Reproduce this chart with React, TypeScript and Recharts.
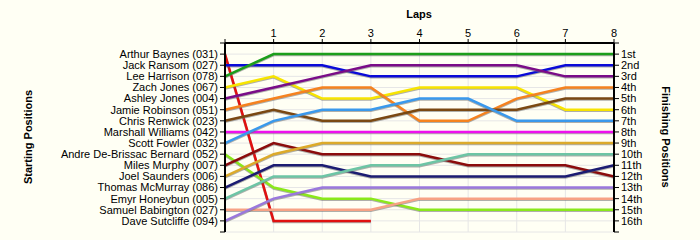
import React from 'react';
import { LineChart, Line, XAxis, YAxis, CartesianGrid } from 'recharts';

const laps = [0, 1, 2, 3, 4, 5, 6, 7, 8];
const positionTicks = [0, 1, 2, 3, 4, 5, 6, 7, 8, 9, 10, 11, 12, 13, 14, 15, 16, 17];

const startNames = [
  'Arthur Baynes (031)',
  'Jack Ransom (027)',
  'Lee Harrison (078)',
  'Zach Jones (067)',
  'Ashley Jones (004)',
  'Jamie Robinson (051)',
  'Chris Renwick (023)',
  'Marshall Williams (042)',
  'Scott Fowler (032)',
  'Andre De-Brissac Bernard (052)',
  'Miles Murphy (007)',
  'Joel Saunders (006)',
  'Thomas McMurray (086)',
  'Emyr Honeybun (005)',
  'Samuel Babington (027)',
  'Dave Sutcliffe (094)',
];

const finishLabels = ['1st', '2nd', '3rd', '4th', '5th', '6th', '7th', '8th', '9th', '10th', '11th', '12th', '13th', '14th', '15th', '16th'];

// position per lap (lap 0 = grid)
const arthurBaynes = [1, 16, 16, 16, null, null, null, null, null];
const jackRansom = [2, 2, 2, 3, 3, 3, 3, 2, 2];
const leeHarrison = [3, 1, 1, 1, 1, 1, 1, 1, 1];
const zachJones = [4, 3, 5, 5, 4, 4, 4, 6, 6];
const ashleyJones = [5, 4, 3, 2, 2, 2, 2, 3, 3];
const jamieRobinson = [6, 5, 4, 4, 7, 7, 5, 4, 4];
const chrisRenwick = [7, 6, 7, 7, 6, 6, 6, 5, 5];
const marshallWilliams = [8, 8, 8, 8, 8, 8, 8, 8, 8];
const scottFowler = [9, 7, 6, 6, 5, 5, 7, 7, 7];
const andreBernard = [10, 13, 14, 14, 15, 15, 15, 15, 15];
const milesMurphy = [11, 9, 10, 10, 10, 11, 11, 11, 12];
const joelSaunders = [12, 10, 9, 9, 9, 9, 9, 9, 9];
const thomasMcMurray = [13, 11, 11, 12, 12, 12, 12, 12, 11];
const emyrHoneybun = [14, 12, 12, 11, 11, 10, 10, 10, 10];
const samuelBabington = [15, 15, 15, 15, 14, 14, 14, 14, 14];
const daveSutcliffe = [16, 14, 13, 13, 13, 13, 13, 13, 13];

const series = [
  arthurBaynes, jackRansom, leeHarrison, zachJones, ashleyJones, jamieRobinson,
  chrisRenwick, marshallWilliams, scottFowler, andreBernard, milesMurphy,
  joelSaunders, thomasMcMurray, emyrHoneybun, samuelBabington, daveSutcliffe,
];

const COLORS = [
  '#e01010', '#0a0ad8', '#1b9e1b', '#f7e400', '#7a0c88', '#f5821f',
  '#7a4812', '#ee11ee', '#3a99ec', '#8ae81a', '#8b0c0c',
  '#dcaa2a', '#1c1c72', '#6dc5a5', '#f7a285', '#9a78dc',
];

const data = laps.map((lap, i) => {
  const row: Record<string, number | null> = { lap };
  series.forEach((s, k) => {
    row[`d${k}`] = s[i];
  });
  return row;
});

const FONT = '"Liberation Sans", Arial, sans-serif';
const tickStyle = { fontSize: 11, fill: '#000', fontFamily: FONT };
const axisLine = { stroke: '#000', strokeWidth: 2 };

export default function App() {
  return (
    <div style={{ position: 'absolute', left: 0, top: 0, width: 700, height: 240, background: '#fffff4' }}>
      <style>{`.recharts-line-curve { filter: drop-shadow(0px 1.5px 0px rgba(110,110,110,0.55)); }`}</style>
      <LineChart width={700} height={240} data={data} margin={{ top: 0, right: 0, left: 0, bottom: 8 }}>
        <CartesianGrid yAxisId="left" stroke="#e6e6e6" strokeWidth={1} />
        <XAxis
          dataKey="lap"
          type="number"
          orientation="top"
          domain={[0, 8]}
          ticks={laps}
          interval={0}
          height={43}
          tickSize={4}
          tickLine={{ stroke: '#000' }}
          axisLine={axisLine}
          tick={tickStyle}
          tickFormatter={(v: number) => (v === 0 ? '' : String(v))}
        />
        <YAxis
          yAxisId="left"
          orientation="left"
          type="number"
          domain={[0, 17]}
          reversed
          ticks={positionTicks}
          interval={0}
          width={225}
          tickSize={5}
          tickLine={{ stroke: '#000' }}
          axisLine={axisLine}
          tick={tickStyle}
          tickFormatter={(v: number) => startNames[v - 1] ?? ''}
        />
        <YAxis
          yAxisId="right"
          orientation="right"
          type="number"
          domain={[0, 17]}
          reversed
          allowDataOverflow
          ticks={positionTicks}
          interval={0}
          width={86}
          tickSize={5}
          tickLine={{ stroke: '#000' }}
          axisLine={axisLine}
          tick={tickStyle}
          tickFormatter={(v: number) => finishLabels[v - 1] ?? ''}
        />
        {/* invisible series so the finishing-position axis is laid out */}
        <Line
          yAxisId="right"
          type="linear"
          dataKey="d2"
          stroke="none"
          strokeWidth={0}
          dot={false}
          activeDot={false}
          legendType="none"
          isAnimationActive={false}
        />
        {series.map((_, k) => (
          <Line
            key={k}
            yAxisId="left"
            type="linear"
            dataKey={`d${k}`}
            stroke={COLORS[k]}
            strokeWidth={2.5}
            dot={false}
            activeDot={false}
            connectNulls={false}
            isAnimationActive={false}
          />
        ))}
      </LineChart>
      <svg width={700} height={240} style={{ position: 'absolute', left: 0, top: 0, pointerEvents: 'none' }}>
        <text x={419} y={18} textAnchor="middle" fontSize={11} fontWeight="bold" fontFamily={FONT}>Laps</text>
        <text
          x={28}
          y={137}
          textAnchor="middle"
          dominantBaseline="central"
          fontSize={11}
          fontWeight="bold"
          fontFamily={FONT}
          transform="rotate(-90 28 137)"
        >
          Starting Positions
        </text>
        <text
          x={666}
          y={137}
          textAnchor="middle"
          dominantBaseline="central"
          fontSize={11}
          fontWeight="bold"
          fontFamily={FONT}
          transform="rotate(90 666 137)"
        >
          Finishing Positions
        </text>
      </svg>
    </div>
  );
}
